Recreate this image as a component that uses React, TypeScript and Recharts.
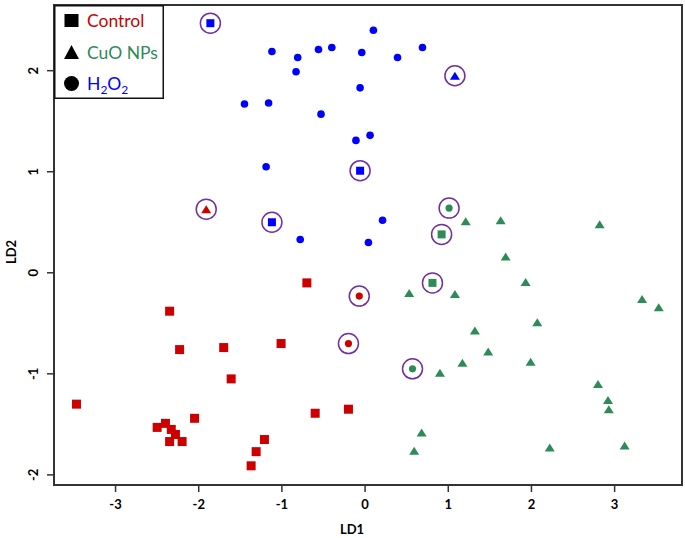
import { ScatterChart, Scatter, XAxis, YAxis, ReferenceArea } from 'recharts';

// axis setup
const xDomain = [-3.74, 3.81];
const yDomain = [-2.1, 2.65];
const xTicks = [-3, -2, -1, 0, 1, 2, 3];
const yTicks = [-2, -1, 0, 1, 2];

// Control (red)
const controlSquares = [
  { x: -3.47, y: -1.3 }, { x: -2.35, y: -0.38 }, { x: -2.23, y: -0.76 }, { x: -1.7, y: -0.74 },
  { x: -1.61, y: -1.05 }, { x: -1.01, y: -0.7 }, { x: -0.7, y: -0.1 }, { x: -2.05, y: -1.44 },
  { x: -2.5, y: -1.53 }, { x: -2.4, y: -1.49 }, { x: -2.33, y: -1.55 }, { x: -2.28, y: -1.6 },
  { x: -2.35, y: -1.67 }, { x: -2.2, y: -1.67 }, { x: -1.21, y: -1.65 }, { x: -1.31, y: -1.77 },
  { x: -1.37, y: -1.91 }, { x: -0.6, y: -1.39 }, { x: -0.2, y: -1.35 },
];
const controlCircles = [{ x: -0.07, y: -0.23 }, { x: -0.2, y: -0.7 }];
const controlTriangles = [{ x: -1.91, y: 0.63 }];

// H2O2 (blue)
const h2o2Circles = [
  { x: -1.12, y: 2.19 }, { x: -0.81, y: 2.13 }, { x: -0.83, y: 1.99 }, { x: -0.56, y: 2.21 },
  { x: -0.4, y: 2.23 }, { x: -1.45, y: 1.67 }, { x: -1.16, y: 1.68 }, { x: -0.53, y: 1.57 },
  { x: -0.11, y: 1.31 }, { x: -1.19, y: 1.05 }, { x: -0.78, y: 0.33 }, { x: 0.1, y: 2.4 },
  { x: -0.04, y: 2.18 }, { x: 0.39, y: 2.13 }, { x: 0.69, y: 2.23 }, { x: -0.06, y: 1.83 },
  { x: 0.06, y: 1.36 }, { x: 0.21, y: 0.52 }, { x: 0.04, y: 0.3 },
];
const h2o2Squares = [{ x: -1.86, y: 2.47 }, { x: -1.12, y: 0.5 }, { x: -0.06, y: 1.01 }];
const h2o2Triangles = [{ x: 1.08, y: 1.95 }];

// CuO NPs (green)
const cuoTriangles = [
  { x: 1.21, y: 0.51 }, { x: 1.63, y: 0.52 }, { x: 2.82, y: 0.48 }, { x: 1.69, y: 0.16 },
  { x: 0.53, y: -0.2 }, { x: 1.08, y: -0.21 }, { x: 1.93, y: -0.09 }, { x: 3.33, y: -0.26 },
  { x: 3.53, y: -0.34 }, { x: 2.07, y: -0.49 }, { x: 1.32, y: -0.57 }, { x: 1.48, y: -0.78 },
  { x: 1.17, y: -0.89 }, { x: 1.99, y: -0.88 }, { x: 0.9, y: -0.99 }, { x: 2.8, y: -1.1 },
  { x: 2.92, y: -1.26 }, { x: 2.93, y: -1.35 }, { x: 0.68, y: -1.58 }, { x: 0.59, y: -1.76 },
  { x: 2.22, y: -1.73 }, { x: 3.12, y: -1.71 },
];
const cuoCircles = [{ x: 1.01, y: 0.64 }, { x: 0.57, y: -0.95 }];
const cuoSquares = [{ x: 0.92, y: 0.38 }, { x: 0.81, y: -0.1 }];

// misclassified samples get a purple ring
const ringed = [
  ...controlCircles, ...controlTriangles,
  ...h2o2Squares, ...h2o2Triangles,
  ...cuoCircles, ...cuoSquares,
];

const RED = '#CC0000';
const GREEN = '#2E8B57';
const BLUE = '#0000FF';
const PURPLE = '#7030A0';
const AXIS = '#333333';

const square = (color: string, size: number) => (p: any) => (
  <rect x={p.cx - size / 2} y={p.cy - size / 2} width={size} height={size} fill={color} />
);
const dot = (color: string, r: number) => (p: any) => <circle cx={p.cx} cy={p.cy} r={r} fill={color} />;
const tri = (color: string, w: number, h: number) => (p: any) => (
  <polygon
    points={`${p.cx},${p.cy - h / 2} ${p.cx - w / 2},${p.cy + h / 2} ${p.cx + w / 2},${p.cy + h / 2}`}
    fill={color}
  />
);
const ring = (p: any) => <circle cx={p.cx} cy={p.cy} r={10} fill="none" stroke={PURPLE} strokeWidth={1.5} />;

function YTick({ x, y, payload }: any) {
  return (
    <text transform={`translate(${x - 7},${y}) rotate(-90)`} textAnchor="middle" fontSize={13} fontWeight="bold" fill="#000">
      {payload.value}
    </text>
  );
}

const legendItems = [
  { label: 'Control', color: RED, shape: 'square' },
  { label: 'CuO NPs', color: GREEN, shape: 'triangle' },
  { label: 'H2O2', color: BLUE, shape: 'circle' },
];

function LegendBox() {
  return (
    <svg width={110} height={94} style={{ position: 'absolute', left: 54, top: 5 }}>
      <rect x={0.75} y={0.75} width={108.5} height={92.5} fill="#fff" stroke="#111" strokeWidth={1.5} />
      {legendItems.map((it, i) => {
        const cy = 15.5 + i * 31.5;
        const cx = 17.5;
        let mark;
        if (it.shape === 'square') mark = <rect x={cx - 7} y={cy - 6.5} width={14} height={13} fill="#000" />;
        else if (it.shape === 'triangle')
          mark = <polygon points={`${cx},${cy - 7} ${cx - 7.5},${cy + 7} ${cx + 7.5},${cy + 7}`} fill="#000" />;
        else mark = <circle cx={cx} cy={cy} r={7.5} fill="#000" />;
        return (
          <g key={it.label}>
            {mark}
            <text x={33} y={cy + 6.5} fontSize={17.5} fill={it.color}>
              {it.label === 'H2O2' ? (
                <>
                  H<tspan fontSize={12} dy={4}>2</tspan>
                  <tspan dy={-4}>O</tspan>
                  <tspan fontSize={12} dy={4}>2</tspan>
                </>
              ) : (
                it.label
              )}
            </text>
          </g>
        );
      })}
    </svg>
  );
}

export default function App() {
  return (
    <div style={{ position: 'absolute', left: 0, top: 0, width: 685, height: 538, fontFamily: 'Lato', background: '#fff' }}>
      <ScatterChart width={685} height={538} margin={{ top: 5, right: 3, bottom: 0, left: 0 }}>
        <XAxis
          type="number"
          dataKey="x"
          domain={xDomain}
          ticks={xTicks}
          allowDataOverflow
          height={53}
          tickSize={7}
          tickMargin={8}
          axisLine={{ stroke: AXIS, strokeWidth: 2 }}
          tickLine={{ stroke: AXIS, strokeWidth: 1.5 }}
          tick={{ fontSize: 13, fontWeight: 'bold', fill: '#000' }}
          label={{ value: 'LD1', position: 'center', dx: -16, dy: 18, style: { fontSize: 13, fontWeight: 'bold', fill: '#000' } }}
        />
        <YAxis
          type="number"
          dataKey="y"
          domain={yDomain}
          ticks={yTicks}
          allowDataOverflow
          width={54}
          tickSize={7}
          axisLine={{ stroke: AXIS, strokeWidth: 2 }}
          tickLine={{ stroke: AXIS, strokeWidth: 1.5 }}
          tick={<YTick />}
          label={{ value: 'LD2', angle: -90, position: 'center', dx: -16, dy: 7, style: { fontSize: 13, fontWeight: 'bold', fill: '#000' } }}
        />
        <ReferenceArea x1={xDomain[0]} x2={xDomain[1]} y1={yDomain[0]} y2={yDomain[1]} fill="none" stroke={AXIS} strokeWidth={2} strokeOpacity={1} />
        <Scatter data={ringed} shape={ring} isAnimationActive={false} />
        <Scatter data={controlSquares} shape={square(RED, 9)} isAnimationActive={false} />
        <Scatter data={controlCircles} shape={dot(RED, 3.6)} isAnimationActive={false} />
        <Scatter data={controlTriangles} shape={tri(RED, 10, 8)} isAnimationActive={false} />
        <Scatter data={h2o2Circles} shape={dot(BLUE, 3.8)} isAnimationActive={false} />
        <Scatter data={h2o2Squares} shape={square(BLUE, 8)} isAnimationActive={false} />
        <Scatter data={h2o2Triangles} shape={tri(BLUE, 10, 8)} isAnimationActive={false} />
        <Scatter data={cuoTriangles} shape={tri(GREEN, 10, 8)} isAnimationActive={false} />
        <Scatter data={cuoCircles} shape={dot(GREEN, 3.6)} isAnimationActive={false} />
        <Scatter data={cuoSquares} shape={square(GREEN, 8)} isAnimationActive={false} />
      </ScatterChart>
      <LegendBox />
    </div>
  );
}
